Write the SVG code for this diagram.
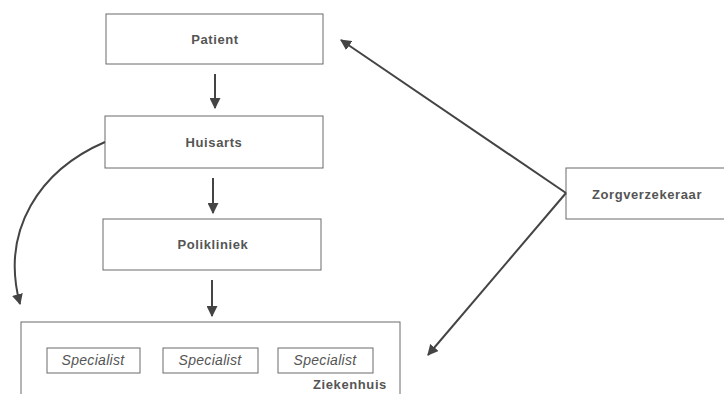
<svg xmlns="http://www.w3.org/2000/svg" width="724" height="394" viewBox="0 0 724 394">
  <style>
    .box { fill: #ffffff; stroke: #6a6a6a; stroke-width: 1; }
    .lbl { font-family: "Liberation Sans", Arial, sans-serif; font-size: 13px; font-weight: bold; letter-spacing: 0.6px; fill: #555555; text-anchor: middle; dominant-baseline: central; }
    .spec { font-family: "Liberation Sans", Arial, sans-serif; font-size: 14px; font-style: italic; letter-spacing: 0.3px; fill: #555555; text-anchor: middle; dominant-baseline: central; }
    .edge { fill: none; stroke: #444444; stroke-width: 2; }
  </style>
  <defs>
    <marker id="arrow" viewBox="0 0 10 10" refX="9" refY="5" markerWidth="5.5" markerHeight="5.5" orient="auto">
      <path d="M0,0 L10,5 L0,10 Z" fill="#444444"/>
    </marker>
  </defs>
  <rect width="724" height="394" fill="#ffffff"/>

  <g id="patient">
    <rect class="box" x="106" y="14" width="217" height="50"/>
    <text class="lbl" x="215" y="39">Patient</text>
  </g>
  <g id="huisarts">
    <rect class="box" x="105" y="116" width="218" height="52"/>
    <text class="lbl" x="214" y="142">Huisarts</text>
  </g>
  <g id="polikliniek">
    <rect class="box" x="103" y="219" width="218" height="51"/>
    <text class="lbl" x="213" y="244">Polikliniek</text>
  </g>
  <g id="ziekenhuis">
    <rect class="box" x="21" y="322" width="379" height="90"/>
    <text class="lbl" x="350" y="384">Ziekenhuis</text>
    <g id="specialist-1">
      <rect class="box" x="47" y="348" width="93" height="25"/>
      <text class="spec" x="93" y="360">Specialist</text>
    </g>
    <g id="specialist-2">
      <rect class="box" x="163" y="348" width="95" height="25"/>
      <text class="spec" x="210" y="360">Specialist</text>
    </g>
    <g id="specialist-3">
      <rect class="box" x="278" y="348" width="95" height="25"/>
      <text class="spec" x="325" y="360">Specialist</text>
    </g>
  </g>
  <g id="zorgverzekeraar">
    <rect class="box" x="566" y="168" width="160" height="51"/>
    <text class="lbl" x="647" y="194">Zorgverzekeraar</text>
  </g>

  <g id="connectors">
    <line class="edge" x1="215" y1="74" x2="215" y2="108" marker-end="url(#arrow)"/>
    <line class="edge" x1="213" y1="178" x2="213" y2="213" marker-end="url(#arrow)"/>
    <line class="edge" x1="212" y1="280" x2="212" y2="316" marker-end="url(#arrow)"/>
    <path class="edge" d="M105,142 C40,170 0,230 20,304" marker-end="url(#arrow)"/>
    <line class="edge" x1="566" y1="193" x2="341" y2="40" marker-end="url(#arrow)"/>
    <line class="edge" x1="566" y1="193" x2="428" y2="355" marker-end="url(#arrow)"/>
  </g>
</svg>
